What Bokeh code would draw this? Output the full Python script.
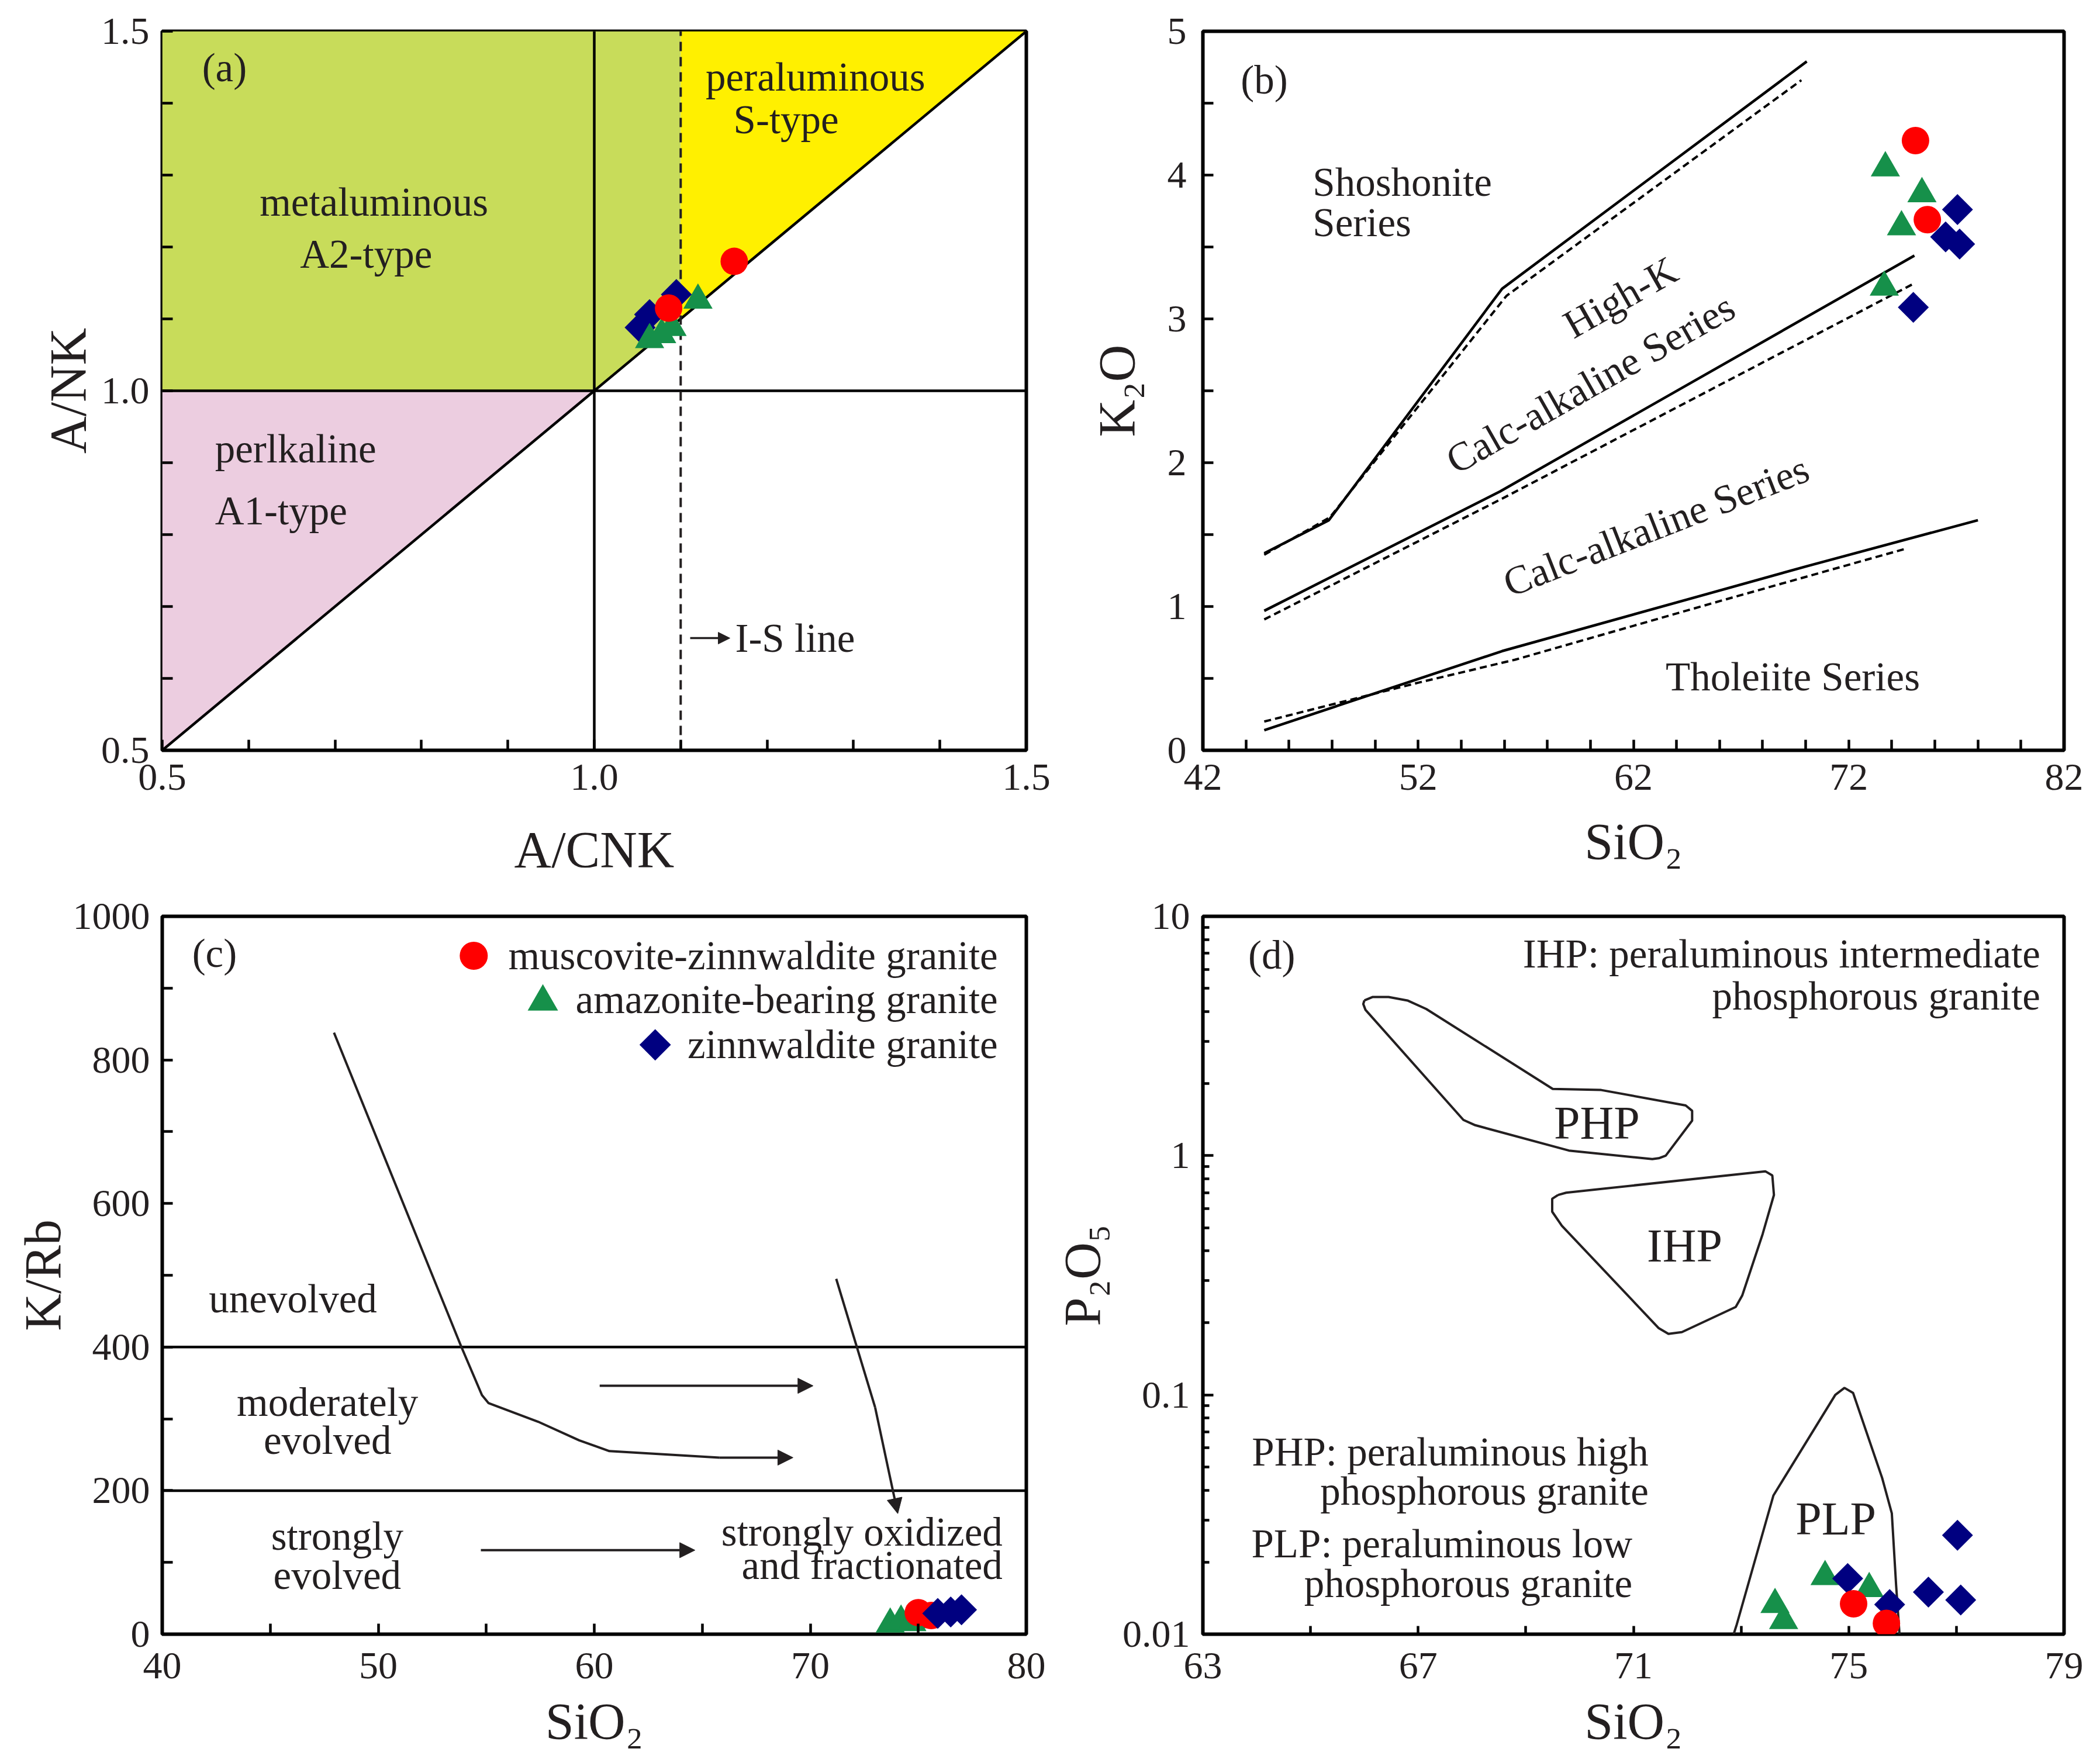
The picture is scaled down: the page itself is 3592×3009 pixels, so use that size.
import math
from bokeh.plotting import figure
from bokeh.models import (Range1d, FixedTicker, CustomJSTickFormatter, Arrow, NormalHead)
from bokeh.layouts import column, row
from bokeh.embed import file_html
from bokeh.resources import INLINE
from bokeh.core.properties import value

# ---------------- data: panel (a) A/CNK vs A/NK ----------------
a_mzg_acnk = [1.162, 1.086]
a_mzg_ank = [1.180, 1.115]
a_abg_acnk = [1.064, 1.078, 1.090, 1.120]
a_abg_ank = [1.071, 1.078, 1.088, 1.126]
a_zg_acnk = [1.053, 1.064, 1.095]
a_zg_ank = [1.088, 1.106, 1.134]
a_metal_x = [0.5, 0.5, 1.1, 1.1, 1.0]
a_metal_y = [1.0, 1.5, 1.5, 1.1, 1.0]
a_peral_x = [1.1, 1.1, 1.5]
a_peral_y = [1.1, 1.5, 1.5]
a_perk_x = [0.5, 0.5, 1.0]
a_perk_y = [0.5, 1.0, 1.0]
a_is_line = 1.1

# ---------------- data: panel (b) SiO2 vs K2O ----------------
b_mzg_sio2 = [75.1, 75.65]
b_mzg_k2o = [4.24, 3.69]
b_abg_sio2 = [73.7, 75.4, 74.45, 73.65]
b_abg_k2o = [4.05, 3.87, 3.64, 3.22]
b_zg_sio2 = [77.05, 76.5, 77.15, 75.0]
b_zg_k2o = [3.76, 3.57, 3.52, 3.08]
b_sho_x = [44.85, 47.85, 55.9, 70.05]
b_sho_y = [1.37, 1.60, 3.21, 4.79]
b_sho_dash_x = [44.85, 47.9, 56.1, 69.8]
b_sho_dash_y = [1.36, 1.62, 3.16, 4.66]
b_hk_x = [44.85, 55.8, 75.05]
b_hk_y = [0.97, 1.80, 3.44]
b_hk_dash_x = [44.85, 55.9, 74.95]
b_hk_dash_y = [0.91, 1.75, 3.24]
b_ca_x = [44.85, 55.9, 70.05, 78.0]
b_ca_y = [0.14, 0.69, 1.28, 1.60]
b_ca_dash_x = [44.85, 52.0, 56.5, 66.3, 74.6]
b_ca_dash_y = [0.20, 0.47, 0.63, 1.05, 1.40]

# ---------------- data: panel (c) SiO2 vs K/Rb ----------------
c_mzg_sio2 = [75.0, 75.6]
c_mzg_krb = [30, 26]
c_abg_sio2 = [73.7, 74.2, 74.7, 75.2]
c_abg_krb = [14, 18, 16, 20]
c_zg_sio2 = [75.9, 76.5, 77.0]
c_zg_krb = [29, 31, 34]
c_trend_x = [47.95, 53.85, 54.8, 55.1, 57.4, 59.3, 60.7, 65.8, 69.2]
c_trend_y = [838, 400, 333, 322, 296, 270, 255, 246, 246]
c_oxid_x = [71.2, 73.0, 74.05]
c_oxid_y = [495, 316, 168]
c_arrow_mod = [60.25, 70.13, 346]
c_arrow_str = [54.75, 64.66, 117]
c_limits = [400, 200]

# ---------------- data: panel (d) SiO2 vs P2O5 ----------------
d_mzg_sio2 = [75.09, 75.70]
d_mzg_p2o5 = [0.0134, 0.0111]
d_abg_sio2 = [73.63, 73.79, 74.56, 75.38]
d_abg_p2o5 = [0.0133, 0.0114, 0.0174, 0.0155]
d_zg_sio2 = [74.98, 75.76, 77.02, 76.48, 77.08]
d_zg_p2o5 = [0.0171, 0.0133, 0.0259, 0.0150, 0.0139]
d_php_x = [66.0, 66.15, 66.45, 66.8, 67.15, 69.5, 70.4, 71.97, 72.09, 72.09, 71.6, 71.47,
           71.35, 69.8, 68.06, 67.84, 66.02, 65.98, 66.0]
d_php_y = [4.45, 4.6, 4.6, 4.45, 4.1, 1.9, 1.88, 1.62, 1.54, 1.40, 1.0, 0.975,
           0.967, 1.05, 1.34, 1.41, 4.07, 4.3, 4.45]
d_ihp_x = [69.6, 69.75, 73.45, 73.58, 73.61, 73.4, 73.02, 72.9, 71.9, 71.65, 71.47,
           69.67, 69.49, 69.49, 69.6]
d_ihp_y = [0.685, 0.70, 0.86, 0.826, 0.685, 0.47, 0.26, 0.233, 0.183, 0.18, 0.19,
           0.509, 0.583, 0.66, 0.685]
d_plp_x = [72.83, 72.92, 73.6, 74.75, 74.92, 75.08, 75.62, 75.80, 75.88, 75.95]
d_plp_y = [0.0095, 0.0110, 0.038, 0.100, 0.107, 0.102, 0.045, 0.032, 0.016, 0.0095]

legend_labels = ["muscovite-zinnwaldite granite", "amazonite-bearing granite", "zinnwaldite granite"]

# ---------------- styles ----------------
FONT = "Liberation Serif"
TXT = "#231f20"
RED = "#ff0000"
GREEN = "#16904a"
BLUE = "#000080"
TICK_SIZE = "66px"
TITLE_SIZE = "88px"
BODY = "69px"
DIAMOND = math.pi / 4
LW = 4.5


def make_fig(w, h, xr, yr, left, right, top, bottom, y_type="linear"):
    p = figure(width=w, height=h, x_range=Range1d(*xr), y_range=Range1d(*yr),
               y_axis_type=y_type, output_backend="svg", toolbar_location=None, tools="",
               min_border_left=left, min_border_right=right,
               min_border_top=top, min_border_bottom=bottom)
    p.grid.visible = False
    p.outline_line_color = "black"
    p.outline_line_width = 6
    p.background_fill_color = "white"
    p.border_fill_color = "white"
    for ax in p.axis:
        ax.axis_line_color = None
        ax.major_tick_in = 18
        ax.major_tick_out = 0
        ax.minor_tick_in = 18
        ax.minor_tick_out = 0
        ax.major_tick_line_width = 4.5
        ax.minor_tick_line_width = 4.5
        ax.major_tick_line_color = "black"
        ax.minor_tick_line_color = "black"
        ax.major_label_text_font = FONT
        ax.major_label_text_font_size = TICK_SIZE
        ax.major_label_text_color = TXT
        ax.axis_label_text_font = FONT
        ax.axis_label_text_font_size = TITLE_SIZE
        ax.axis_label_text_font_style = "normal"
        ax.axis_label_text_color = TXT
    return p


def set_axes(p, xlab, ylab, x_lso, x_als, y_lso, y_als):
    p.xaxis.axis_label = xlab
    p.yaxis.axis_label = ylab
    p.xaxis.major_label_standoff = x_lso
    p.xaxis.axis_label_standoff = x_als
    p.yaxis.major_label_standoff = y_lso
    p.yaxis.axis_label_standoff = y_als


def txt(p, xs, ys, texts, size=BODY, align="center", angle=0.0):
    p.text(x=xs, y=ys, text=texts, text_font=value(FONT), text_font_size=size,
           text_align=align, text_baseline="middle", text_color=TXT, angle=angle)


def arrow(p, x0, y0, x1, y1, size=26, lw=4):
    p.add_layout(Arrow(end=NormalHead(size=size, fill_color=TXT, line_color=TXT, line_width=1),
                       x_start=x0, y_start=y0, x_end=x1, y_end=y1,
                       line_color=TXT, line_width=lw))


def pts(p, xs, ys, kind, size):
    if kind == "circle":
        p.scatter(xs, ys, marker="circle", size=size, fill_color=RED, line_color=None)
    elif kind == "triangle":
        p.scatter(xs, ys, marker="triangle", size=size, fill_color=GREEN, line_color=None)
    else:
        p.scatter(xs, ys, marker="square", angle=DIAMOND, size=size * 0.72,
                  fill_color=BLUE, line_color=None)


# widths/heights: page origin at (0, 0)
W1a, W1b = 1818, 1766
W2c, W2d = 1795, 1789
H1, H2 = 1527, 1482

# ---------------- panel (a) ----------------
pa = make_fig(W1a, H1, (0.5, 1.5), (0.5, 1.5), 277, 63, 53, 244)
pa.patch(a_metal_x, a_metal_y, fill_color="#c8dc5a", line_color=None)
pa.patch(a_peral_x, a_peral_y, fill_color="#fff000", line_color=None)
pa.patch(a_perk_x, a_perk_y, fill_color="#eccde0", line_color=None)
pa.line([0.5, 1.5], [0.5, 1.5], line_color="black", line_width=LW)
pa.line([1.0, 1.0], [0.5, 1.5], line_color="black", line_width=LW)
pa.line([0.5, 1.5], [1.0, 1.0], line_color="black", line_width=LW)
pa.line([a_is_line, a_is_line], [0.5, 1.5], line_color="#231f20", line_width=4,
        line_dash="16 10")
pts(pa, a_zg_acnk, a_zg_ank, "diamond", 52)
pts(pa, a_abg_acnk, a_abg_ank, "triangle", 50)
pts(pa, a_mzg_acnk, a_mzg_ank, "circle", 47)
txt(pa, [0.572], [1.449], ["(a)"])
txt(pa, [0.745, 0.736], [1.262, 1.190], ["metaluminous", "A2-type"])
txt(pa, [1.256, 1.222], [1.436, 1.377], ["peraluminous", "S-type"])
txt(pa, [0.561, 0.561], [0.919, 0.833], ["perlkaline", "A1-type"], align="left")
arrow(pa, 1.111, 0.656, 1.157, 0.656, size=20, lw=3.5)
txt(pa, [1.163], [0.656], ["I-S line"], align="left")
pa.xaxis.ticker = FixedTicker(ticks=[0.5, 1.0, 1.5],
                              minor_ticks=[0.6, 0.7, 0.8, 0.9, 1.1, 1.2, 1.3, 1.4])
pa.yaxis.ticker = FixedTicker(ticks=[0.5, 1.0, 1.5],
                              minor_ticks=[0.6, 0.7, 0.8, 0.9, 1.1, 1.2, 1.3, 1.4])
pa.xaxis.formatter = CustomJSTickFormatter(code="return tick.toFixed(1);")
pa.yaxis.formatter = CustomJSTickFormatter(code="return tick.toFixed(1);")
set_axes(pa, "A/CNK", "A/NK", 24, 51, 22, 5)

# ---------------- panel (b) ----------------
pb = make_fig(W1b, H1, (42, 82), (0, 5), 239, 54, 53, 244)
for xs, ys in [(b_sho_x, b_sho_y), (b_hk_x, b_hk_y), (b_ca_x, b_ca_y)]:
    pb.line(xs, ys, line_color="black", line_width=LW)
for xs, ys in [(b_sho_dash_x, b_sho_dash_y), (b_hk_dash_x, b_hk_dash_y), (b_ca_dash_x, b_ca_dash_y)]:
    pb.line(xs, ys, line_color="black", line_width=4, line_dash="12 7")
pts(pb, b_zg_sio2, b_zg_k2o, "diamond", 52)
pts(pb, b_abg_sio2, b_abg_k2o, "triangle", 50)
pts(pb, b_mzg_sio2, b_mzg_k2o, "circle", 47)
txt(pb, [44.85], [4.66], ["(b)"])
txt(pb, [47.1, 47.1], [3.95, 3.67], ["Shoshonite", "Series"], align="left")
txt(pb, [61.4], [3.15], ["High-K"], angle=math.radians(29.5))
txt(pb, [60.0], [2.55], ["Calc-alkaline Series"], angle=math.radians(29.5))
txt(pb, [63.05], [1.56], ["Calc-alkaline Series"], angle=math.radians(21.3))
txt(pb, [69.4], [0.51], ["Tholeiite Series"])
pb.xaxis.ticker = FixedTicker(ticks=[42, 52, 62, 72, 82],
                              minor_ticks=[x for x in range(44, 82, 2) if (x - 42) % 10])
pb.yaxis.ticker = FixedTicker(ticks=[0, 1, 2, 3, 4, 5],
                              minor_ticks=[0.5, 1.5, 2.5, 3.5, 4.5])
set_axes(pb, "SiO₂", "K₂O", 24, 37, 28, 35)

# ---------------- panel (c) ----------------
pc = make_fig(W2c, H2, (40, 80), (0, 1000), 277, 40, 40, 214)
for yv in c_limits:
    pc.line([40, 80], [yv, yv], line_color="black", line_width=LW)
pc.line(c_trend_x[:-1], c_trend_y[:-1], line_color=TXT, line_width=4)
arrow(pc, c_trend_x[-2], c_trend_y[-2], c_trend_x[-1], c_trend_y[-1])
pc.line(c_oxid_x[:-1], c_oxid_y[:-1], line_color=TXT, line_width=4)
arrow(pc, c_oxid_x[-2], c_oxid_y[-2], c_oxid_x[-1], c_oxid_y[-1])
arrow(pc, c_arrow_mod[0], c_arrow_mod[2], c_arrow_mod[1], c_arrow_mod[2])
arrow(pc, c_arrow_str[0], c_arrow_str[2], c_arrow_str[1], c_arrow_str[2])
pts(pc, c_abg_sio2, c_abg_krb, "triangle", 50)
pts(pc, c_mzg_sio2, c_mzg_krb, "circle", 47)
pts(pc, c_zg_sio2, c_zg_krb, "diamond", 52)
txt(pc, [42.42], [948], ["(c)"])
txt(pc, [46.05], [467], ["unevolved"])
txt(pc, [47.65, 47.65], [323, 270], ["moderately", "evolved"])
txt(pc, [48.1, 48.1], [136, 82], ["strongly", "evolved"])
txt(pc, [78.9, 78.9], [142, 96], ["strongly oxidized", "and fractionated"], align="right")
# legend (drawn inside the frame, right aligned text)
txt(pc, [78.68, 78.68, 78.68], [945, 884, 821], legend_labels, align="right")
pc.scatter([54.42], [945], marker="circle", size=48, fill_color=RED, line_color=None)
pc.scatter([57.62], [881], marker="triangle", size=52, fill_color=GREEN, line_color=None)
pc.scatter([62.82], [821], marker="square", angle=DIAMOND, size=38, fill_color=BLUE, line_color=None)
pc.xaxis.ticker = FixedTicker(ticks=[40, 50, 60, 70, 80], minor_ticks=[45, 55, 65, 75])
pc.yaxis.ticker = FixedTicker(ticks=[0, 200, 400, 600, 800, 1000],
                              minor_ticks=[100, 300, 500, 700, 900])
set_axes(pc, "SiO₂", "K/Rb", 32, 22, 21, 0)

# ---------------- panel (d) ----------------
pd_ = make_fig(W2d, H2, (63, 79), (0.01, 10), 262, 54, 40, 214, y_type="log")
pd_.line(d_php_x, d_php_y, line_color=TXT, line_width=4)
pd_.line(d_ihp_x, d_ihp_y, line_color=TXT, line_width=4)
pd_.line(d_plp_x, d_plp_y, line_color=TXT, line_width=4)
pts(pd_, d_abg_sio2, d_abg_p2o5, "triangle", 50)
pts(pd_, d_zg_sio2, d_zg_p2o5, "diamond", 52)
pts(pd_, d_mzg_sio2, d_mzg_p2o5, "circle", 47)
txt(pd_, [64.28], [6.87], ["(d)"])
txt(pd_, [78.56, 78.56], [6.95, 4.65],
    ["IHP: peraluminous intermediate", "phosphorous granite"], align="right")
txt(pd_, [70.32], [1.37], ["PHP"], size="80px")
txt(pd_, [71.95], [0.42], ["IHP"], size="80px")
txt(pd_, [74.76], [0.0303], ["PLP"], size="80px")
txt(pd_, [71.28, 71.28], [0.0578, 0.0395],
    ["PHP: peraluminous high", "phosphorous granite"], align="right")
txt(pd_, [70.98, 70.98], [0.0238, 0.0163],
    ["PLP: peraluminous low", "phosphorous granite"], align="right")
pd_.xaxis.ticker = FixedTicker(ticks=[63, 67, 71, 75, 79], minor_ticks=[65, 69, 73, 77])
pd_.yaxis.ticker = FixedTicker(
    ticks=[0.01, 0.1, 1, 10],
    minor_ticks=[k * 10.0 ** e for e in (-2, -1, 0) for k in range(2, 10)])
pd_.yaxis.formatter = CustomJSTickFormatter(code="return tick.toString();")
pd_.xaxis.major_tick_in = 14
pd_.xaxis.minor_tick_in = 14
pd_.yaxis.major_tick_in = 18
pd_.yaxis.minor_tick_in = 11
set_axes(pd_, "SiO₂", "P₂O₅", 32, 22, 22, 17)

layout = column(row(pa, pb), row(pc, pd_))
open("out.html", "w").write(file_html(layout, INLINE))
